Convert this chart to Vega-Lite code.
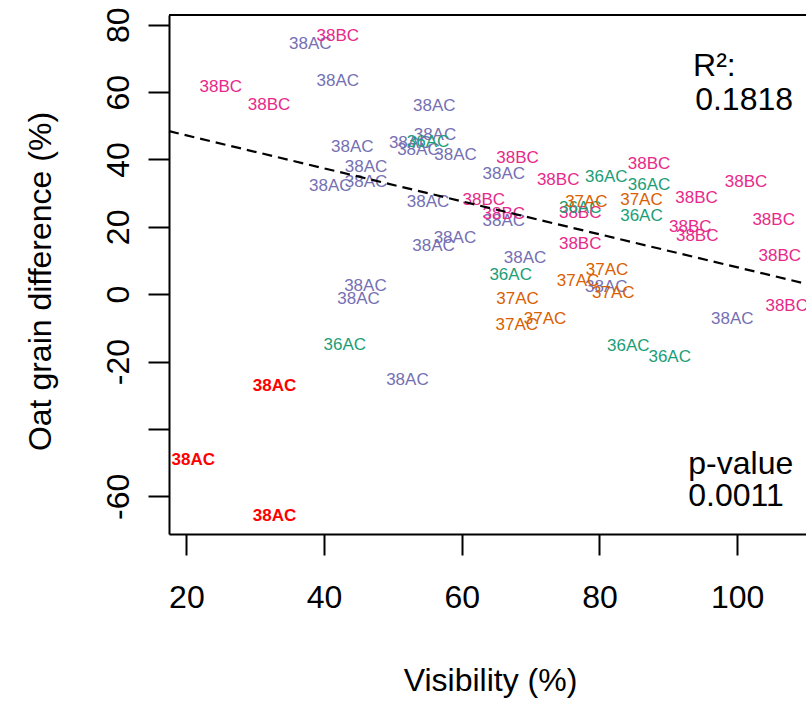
{
  "$schema": "https://vega.github.io/schema/vega-lite/v6.json",
  "width": 637,
  "height": 519,
  "autosize": "none",
  "padding": {"left": 169, "top": 15, "right": 0, "bottom": 169},
  "background": "white",
  "config": {
    "view": {"stroke": null},
    "font": "Liberation Sans",
    "axis": {
      "grid": false,
      "domainColor": "black",
      "domainWidth": 2,
      "tickColor": "black",
      "tickWidth": 2,
      "tickSize": 21,
      "labelFontSize": 32,
      "labelColor": "black",
      "labelFont": "Liberation Sans",
      "titleFont": "Liberation Sans",
      "titleFontSize": 32,
      "titleFontWeight": "normal",
      "titleColor": "black"
    }
  },
  "datasets": {
    "points": [
      {"lab": "38AC", "g": "38AC", "x": 38.0, "y": 74.3},
      {"lab": "38AC", "g": "38AC", "x": 42.0, "y": 63.4},
      {"lab": "38AC", "g": "38AC", "x": 56.0, "y": 56.0},
      {"lab": "38AC", "g": "38AC", "x": 44.1, "y": 43.6},
      {"lab": "38AC", "g": "38AC", "x": 56.1, "y": 47.3},
      {"lab": "38AC", "g": "38AC", "x": 52.5, "y": 45.0},
      {"lab": "38AC", "g": "38AC", "x": 53.7, "y": 42.9},
      {"lab": "38AC", "g": "38AC", "x": 59.1, "y": 41.2},
      {"lab": "38AC", "g": "38AC", "x": 46.1, "y": 37.9},
      {"lab": "38AC", "g": "38AC", "x": 40.9, "y": 32.0},
      {"lab": "38AC", "g": "38AC", "x": 46.1, "y": 33.2},
      {"lab": "38AC", "g": "38AC", "x": 55.1, "y": 27.3},
      {"lab": "38AC", "g": "38AC", "x": 66.1, "y": 35.8},
      {"lab": "38AC", "g": "38AC", "x": 66.1, "y": 21.6},
      {"lab": "38AC", "g": "38AC", "x": 69.2, "y": 10.7},
      {"lab": "38AC", "g": "38AC", "x": 81.0, "y": 2.1},
      {"lab": "38AC", "g": "38AC", "x": 99.3, "y": -7.3},
      {"lab": "38AC", "g": "38AC", "x": 59.0, "y": 16.7},
      {"lab": "38AC", "g": "38AC", "x": 55.9, "y": 14.2},
      {"lab": "38AC", "g": "38AC", "x": 46.0, "y": 2.5},
      {"lab": "38AC", "g": "38AC", "x": 45.0, "y": -1.3},
      {"lab": "38AC", "g": "38AC", "x": 52.1, "y": -25.4},
      {"lab": "38BC", "g": "38BC", "x": 42.0, "y": 76.7},
      {"lab": "38BC", "g": "38BC", "x": 25.0, "y": 61.5},
      {"lab": "38BC", "g": "38BC", "x": 32.0, "y": 56.2},
      {"lab": "38BC", "g": "38BC", "x": 63.2, "y": 28.0},
      {"lab": "38BC", "g": "38BC", "x": 68.1, "y": 40.4},
      {"lab": "38BC", "g": "38BC", "x": 74.0, "y": 33.8},
      {"lab": "38BC", "g": "38BC", "x": 87.2, "y": 38.6},
      {"lab": "38BC", "g": "38BC", "x": 101.3, "y": 33.2},
      {"lab": "38BC", "g": "38BC", "x": 66.1, "y": 23.9},
      {"lab": "38BC", "g": "38BC", "x": 77.2, "y": 24.1},
      {"lab": "38BC", "g": "38BC", "x": 94.1, "y": 28.5},
      {"lab": "38BC", "g": "38BC", "x": 93.2, "y": 20.1},
      {"lab": "38BC", "g": "38BC", "x": 94.2, "y": 17.4},
      {"lab": "38BC", "g": "38BC", "x": 105.3, "y": 22.1},
      {"lab": "38BC", "g": "38BC", "x": 77.2, "y": 15.0},
      {"lab": "38BC", "g": "38BC", "x": 106.2, "y": 11.4},
      {"lab": "38BC", "g": "38BC", "x": 107.2, "y": -3.4},
      {"lab": "36AC", "g": "36AC", "x": 55.1, "y": 45.3},
      {"lab": "36AC", "g": "36AC", "x": 81.0, "y": 34.8},
      {"lab": "36AC", "g": "36AC", "x": 87.2, "y": 32.5},
      {"lab": "36AC", "g": "36AC", "x": 77.2, "y": 25.6},
      {"lab": "36AC", "g": "36AC", "x": 86.1, "y": 23.3},
      {"lab": "36AC", "g": "36AC", "x": 67.1, "y": 5.8},
      {"lab": "36AC", "g": "36AC", "x": 43.0, "y": -15.2},
      {"lab": "36AC", "g": "36AC", "x": 84.2, "y": -15.5},
      {"lab": "36AC", "g": "36AC", "x": 90.2, "y": -18.5},
      {"lab": "37AC", "g": "37AC", "x": 78.1, "y": 27.5},
      {"lab": "37AC", "g": "37AC", "x": 86.1, "y": 28.0},
      {"lab": "37AC", "g": "37AC", "x": 81.1, "y": 7.3},
      {"lab": "37AC", "g": "37AC", "x": 76.9, "y": 3.8},
      {"lab": "37AC", "g": "37AC", "x": 82.0, "y": 0.5},
      {"lab": "37AC", "g": "37AC", "x": 68.1, "y": -1.4},
      {"lab": "37AC", "g": "37AC", "x": 72.1, "y": -7.4},
      {"lab": "37AC", "g": "37AC", "x": 68.0, "y": -9.1},
      {"lab": "38AC", "g": "outlier", "x": 21.0, "y": -49.1},
      {"lab": "38AC", "g": "outlier", "x": 32.8, "y": -27.2},
      {"lab": "38AC", "g": "outlier", "x": 32.8, "y": -65.9}
    ],
    "fit": [
      {"x": 17.47, "y": 48.4},
      {"x": 110.0, "y": 3.1}
    ],
    "notes": [
      {"t": "R²:", "x": 93.6, "y": 64.8},
      {"t": "0.1818", "x": 93.9, "y": 54.7},
      {"t": "p-value", "x": 92.9, "y": -53.3},
      {"t": "0.0011", "x": 92.9, "y": -63.0}
    ],
    "top": [{"y": 82.9}]
  },
  "layer": [
    {
      "data": {"name": "points"},
      "transform": [{"filter": "datum.g != 'outlier'"}],
      "mark": {"type": "text", "fontSize": 17, "font": "Liberation Sans", "align": "center", "baseline": "middle"},
      "encoding": {
        "x": {
          "field": "x", "type": "quantitative",
          "scale": {"domain": [17.47, 110.0], "nice": false, "zero": false},
          "axis": {
            "values": [20, 40, 60, 80, 100],
            "labelExpr": "'' + datum.value",
            "labelBaseline": "middle",
            "labelPadding": 42,
            "title": "Visibility (%)",
            "titleX": 321,
            "titleY": 146,
            "titleBaseline": "middle",
            "titleAlign": "center"
          }
        },
        "y": {
          "field": "y", "type": "quantitative",
          "scale": {"domain": [-71.2, 82.9], "nice": false, "zero": false},
          "axis": {
            "values": [-60, -40, -20, 0, 20, 40, 60, 80],
            "labelExpr": "datum.value == -40 ? '' : '' + datum.value",
            "labelAngle": 270,
            "labelAlign": "center",
            "labelBaseline": "middle",
            "labelPadding": 30,
            "title": "Oat grain difference (%)",
            "titleAngle": 270,
            "titleX": -129,
            "titleY": 266,
            "titleAlign": "center",
            "titleBaseline": "middle"
          }
        },
        "text": {"field": "lab", "type": "nominal"},
        "color": {
          "field": "g", "type": "nominal", "legend": null,
          "scale": {"domain": ["38AC", "38BC", "36AC", "37AC"], "range": ["#7570B3", "#E7298A", "#1B9E77", "#D95F02"]}
        }
      }
    },
    {
      "data": {"name": "points"},
      "transform": [{"filter": "datum.g == 'outlier'"}],
      "mark": {"type": "text", "fontSize": 17, "font": "Liberation Sans", "fontWeight": "bold", "align": "center", "baseline": "middle", "color": "#FF0000"},
      "encoding": {
        "x": {"field": "x", "type": "quantitative"},
        "y": {"field": "y", "type": "quantitative"},
        "text": {"field": "lab", "type": "nominal"}
      }
    },
    {
      "data": {"name": "fit"},
      "mark": {"type": "line", "color": "black", "strokeWidth": 2.2, "strokeDash": [10, 6]},
      "encoding": {
        "x": {"field": "x", "type": "quantitative"},
        "y": {"field": "y", "type": "quantitative"}
      }
    },
    {
      "data": {"name": "notes"},
      "mark": {"type": "text", "fontSize": 32, "font": "Liberation Sans", "align": "left", "baseline": "alphabetic", "color": "black"},
      "encoding": {
        "x": {"field": "x", "type": "quantitative"},
        "y": {"field": "y", "type": "quantitative"},
        "text": {"field": "t", "type": "nominal"}
      }
    },
    {
      "data": {"name": "top"},
      "mark": {"type": "rule", "color": "black", "strokeWidth": 2},
      "encoding": {
        "y": {"field": "y", "type": "quantitative"}
      }
    }
  ]
}
